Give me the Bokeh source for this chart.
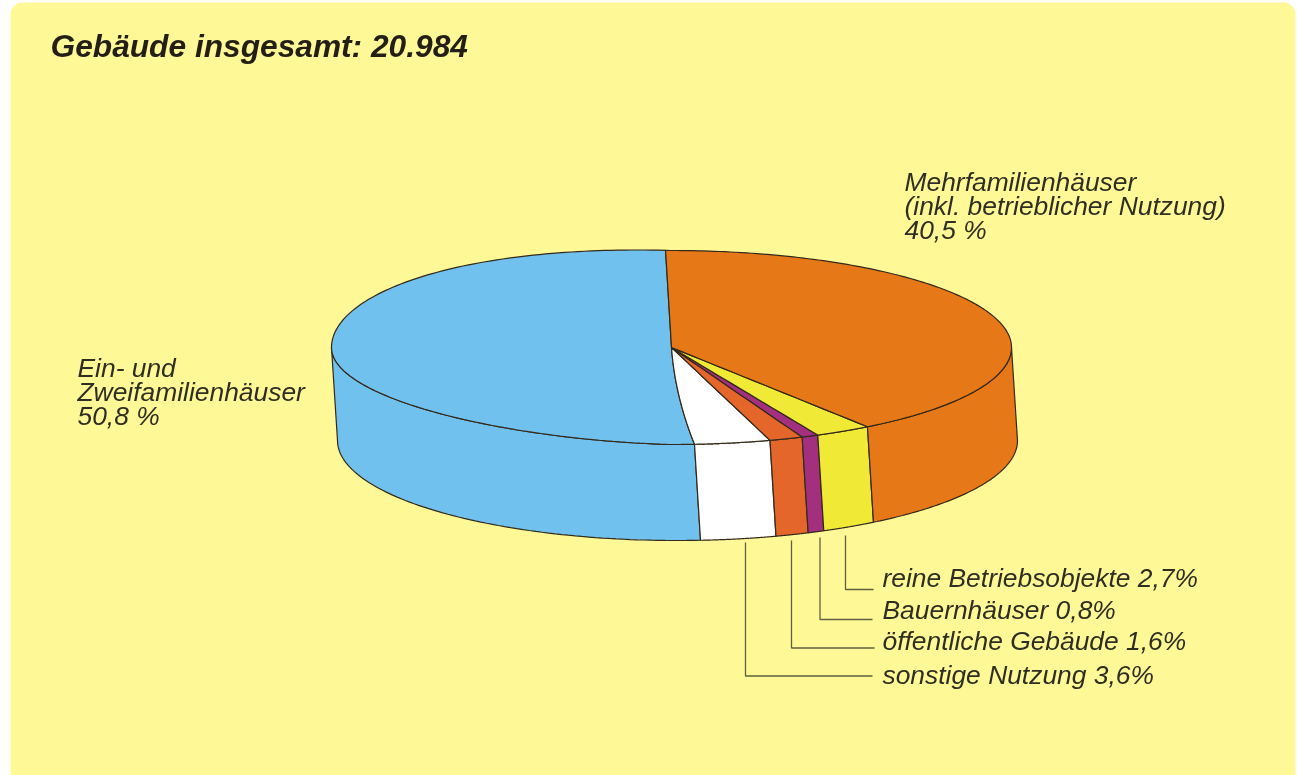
import numpy as np
from bokeh.plotting import figure
from bokeh.models import Range1d
from bokeh.core.properties import value
from bokeh.embed import file_html
from bokeh.resources import INLINE

categories = ["Ein- und Zweifamilienhäuser", "sonstige Nutzung", "öffentliche Gebäude",
              "Bauernhäuser", "reine Betriebsobjekte", "Mehrfamilienhäuser"]
shares = [50.8, 3.6, 1.6, 0.8, 2.7, 40.5]
colors = ["#71C1EE", "#FFFFFF", "#E5662A", "#A3307F", "#F0EA36", "#E67817"]

W, H = 1297, 775
BG = "#FFF897"
INK = "#33281A"
TXT = "#2E2E22"
CX, CY, RX, RY = 671, 347, 340, 97
DX, DY, BOTTOM_RY = 6, 93, 100
START = -1.0

p = figure(width=W, height=H, x_range=Range1d(0, W), y_range=Range1d(H, 0),
           output_backend="svg", toolbar_location=None, min_border=0,
           x_axis_location=None, y_axis_location=None,
           background_fill_color="white", border_fill_color="white", outline_line_color=None)
p.grid.visible = False
p.styles = {"position": "fixed", "left": "0", "top": "0"}

# panel with rounded top corners
r = 12
L, R, T, B = 10, 1295, 2, 775
t = np.linspace(0, np.pi / 2, 12)
px = np.r_[L, L + r - r * np.cos(t), R - r + r * np.sin(t), R]
py = np.r_[B, T + r - r * np.sin(t), T + r - r * np.cos(t), B]
p.patch(px, py, fill_color=BG, line_color=None)


def top(a):
    a = np.radians(a)
    # the drawn ellipse is slightly flattened upward on its left half
    lift = 5 * np.abs(np.sin(2 * a)) * (np.sin(a) < 0)
    return CX + RX * np.sin(a), CY - RY * np.cos(a) - lift


def bottom(a):
    a = np.radians(a)
    return CX + DX + RX * np.sin(a), CY + DY - BOTTOM_RY * np.cos(a)


# boundaries (degrees, running anticlockwise from the back)
edges = START - np.r_[0, np.cumsum(shares)] * 3.6

# side wall: visible between left (-90) and right (-270) extremes
for i, c in enumerate(colors):
    a0, a1 = edges[i], edges[i + 1]
    lo, hi = max(a1, -270), min(a0, -90)
    if lo >= hi:
        continue
    a = np.linspace(hi, lo, 80)
    x, y = top(a)
    bx, by = bottom(a)
    p.patch(np.r_[x, bx[::-1]], np.r_[y, by[::-1]], fill_color=c, line_color=INK, line_width=1.2)


def spoke(a, bow):
    """centre-to-rim edge with an optional sideways bow, as in the drawing"""
    ex, ey = top(np.array([a]))
    s = np.linspace(0, 1, 20)
    return CX + (ex[0] - CX) * s - bow * 4 * s * (1 - s), CY + (ey[0] - CY) * s


# top surface
bows = [0, 4, 0, 0, 0, 0, 0]
for i, c in enumerate(colors):
    a = np.linspace(edges[i], edges[i + 1], 160)
    x, y = top(a)
    sx0, sy0 = spoke(edges[i], bows[i])
    sx1, sy1 = spoke(edges[i + 1], bows[i + 1])
    p.patch(np.r_[sx0, x, sx1[::-1]], np.r_[sy0, y, sy1[::-1]],
            fill_color=c, line_color=INK, line_width=1.2)

# leader lines
leader_xs = [[845, 845, 873], [819.5, 819.5, 872], [791, 791, 874], [745, 745, 872]]
leader_ys = [[535, 589, 589], [537, 619, 619], [540, 647.5, 647.5], [542, 675.5, 675.5]]
p.multi_line(leader_xs, leader_ys, line_color="#5F5F42", line_width=1.3)

font = value("Liberation Sans")


def txt(x, y, s, size, style="italic", color=TXT):
    p.text([x], [y], text=[s], text_font=font, text_font_size=f"{size}px",
           text_font_style=style, text_color=color, text_baseline="alphabetic", text_align="left")


txt(50, 45, "Gebäude insgesamt: 20.984", 31.7, "bold italic", "#231F16")

for y, s in zip([181, 205, 229], ["Mehrfamilienhäuser", "(inkl. betrieblicher Nutzung)", "40,5 %"]):
    txt(904, y, s, 26.4)
for y, s in zip([367, 391, 415], ["Ein- und", "Zweifamilienhäuser", "50,8 %"]):
    txt(77, y, s, 26.4)
for y, s in zip([577, 609, 640, 674],
                ["reine Betriebsobjekte 2,7%", "Bauernhäuser 0,8%",
                 "öffentliche Gebäude 1,6%", "sonstige Nutzung 3,6%"]):
    txt(882, y, s, 26.4)

open("out.html", "w").write(file_html(p, INLINE))
